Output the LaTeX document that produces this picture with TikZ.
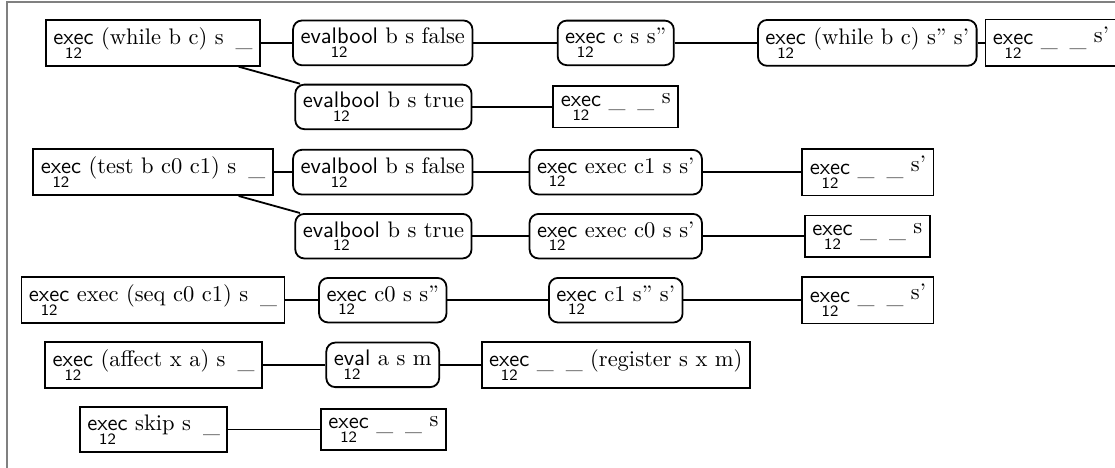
\documentclass[tikz,border=0pt]{standalone}
\usepackage{tikz}
\tikzset{%
  link/.style={thick},
  frame/.style={draw=gray,semithick},
}
% rule name with its index set under it
\newcommand{\pred}[1]{\setbox0\hbox{\sffamily #1}%
  \rlap{\hbox to\wd0{\hss\raisebox{-6.2pt}{\sffamily\scriptsize 12}\hss}}\box0\relax}
\newcommand{\lifted}[1]{\raisebox{1pt}{#1}}
\newcommand{\hole}{\raisebox{-0.8pt}{\_}}
\newcommand{\holes}{\hole\hspace{2pt} \hole}

\begin{document}
\begin{tikzpicture}[
    goal/.style={rectangle, draw, thick},
    sub/.style={rectangle, rounded corners, draw, thick}]
    \useasboundingbox (0,0) rectangle (17.42,-7.31);
    \draw[frame] (0.11,-7.6) |- (17.7,-0.03);

    % while
    \node[goal] (w1) at (2.39,-0.67) {\pred{exec} (while b c) s\hspace{2pt} \hole};
    \node[sub] (w2) at (5.98,-0.67) {\pred{evalbool} b s false};
    \node[sub] (w3) at (9.62,-0.67) {\pred{exec} c s s''};
    \node[sub] (w4) at (13.55,-0.67) {\pred{exec} (while b c) s'' s'};
    \node[goal] (w5) at (16.42,-0.67) {\pred{exec} \holes{} \lifted{s'}};
    \node[sub] (wt1) at (5.99,-1.67) {\pred{evalbool} b s true};
    \node[goal] (wt2) at (9.62,-1.67) {\pred{exec} \holes{} \lifted{s}};

    % test
    \node[goal] (t1) at (2.39,-2.69) {\pred{exec} (test b c0 c1) s\hspace{2pt} \hole};
    \node[sub] (t2) at (5.98,-2.69) {\pred{evalbool} b s false};
    \node[sub] (t3) at (9.62,-2.69) {\pred{exec} exec c1 s s'};
    \node[goal] (t4) at (13.56,-2.69) {\pred{exec} \holes{} \lifted{s'}};
    \node[sub] (tt1) at (5.99,-3.69) {\pred{evalbool} b s true};
    \node[sub] (tt2) at (9.62,-3.69) {\pred{exec} exec c0 s s'};
    \node[goal] (tt3) at (13.55,-3.69) {\pred{exec} \holes{} \lifted{s}};

    % seq
    \node[goal] (q1) at (2.39,-4.69) {\pred{exec} exec (seq c0 c1) s\hspace{2pt} \hole};
    \node[sub] (q2) at (5.98,-4.69) {\pred{exec} c0 s s''};
    \node[sub] (q3) at (9.62,-4.69) {\pred{exec} c1 s'' s'};
    \node[goal] (q4) at (13.56,-4.69) {\pred{exec} \holes{} \lifted{s'}};

    % affect
    \node[goal] (a1) at (2.40,-5.70) {\pred{exec} (affect x a) s\hspace{2pt} \hole};
    \node[sub] (a2) at (5.98,-5.70) {\pred{eval} a s m};
    \node[goal] (a3) at (9.62,-5.70) {\pred{exec} \holes{} (register s x m)};

    % skip
    \node[goal] (k1) at (2.40,-6.71) {\pred{exec} skip s\hspace{2pt} \hole};
    \node[goal] (k2) at (5.99,-6.71) {\pred{exec} \holes{} \lifted{s}};

    \foreach \a/\b in {w1/w2,w2/w3,w3/w4,w4/w5,w1/wt1,wt1/wt2,
      t1/t2,t2/t3,t3/t4,t1/tt1,tt1/tt2,tt2/tt3,
      q1/q2,q2/q3,q3/q4,a1/a2,a2/a3,k1/k2}
    \draw[link] (\a) -- (\b);
  \end{tikzpicture}
\end{document}
